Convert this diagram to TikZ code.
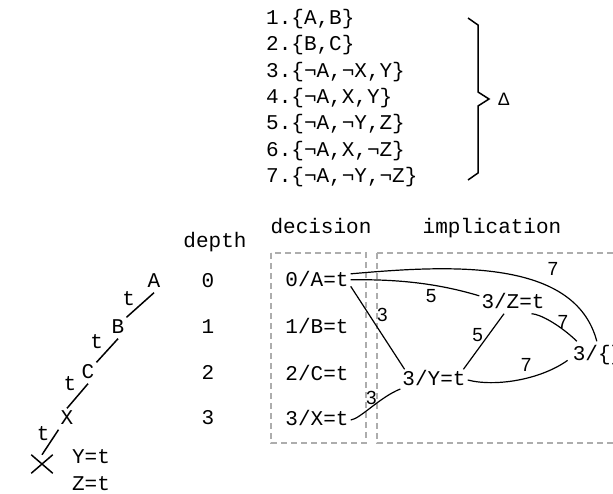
\documentclass[tikz,border=0pt]{standalone}
\usepackage{fontspec}
\newfontfamily\cnffont{Liberation Mono}
\newfontfamily\lblfont{Liberation Sans}
\usepackage{tikz}
\usetikzlibrary{shapes.misc}

\begin{document}
\begin{tikzpicture}[
  x=1pt, y=-1pt,
  every node/.style={
    font=\cnffont\fontsize{21}{26}\selectfont,
    inner sep=2pt,
    text height=14pt,
    text depth=3pt
  },
  lbl/.style={font=\lblfont\fontsize{19}{22}\selectfont, inner sep=1pt, text height=13pt, text depth=0pt},
  tlbl/.style={inner sep=2pt},
  edge/.style={line width=1.2pt},
  trail/.style={line width=1.5pt},
  stage/.style={draw=black!32, line width=2pt, dash pattern=on 6pt off 4pt}
]
\useasboundingbox (0,0) rectangle (613,493);

% clause set
\node[anchor=west] (c1) at (264,19) {1.\{A,B\}};
\node[anchor=west] (c2) at (264,45.3) {2.\{B,C\}};
\node[anchor=west] (c3) at (264,71.6) {3.\{¬A,¬X,Y\}};
\node[anchor=west] (c4) at (264,97.9) {4.\{¬A,X,Y\}};
\node[anchor=west] (c5) at (264,124.2) {5.\{¬A,¬Y,Z\}};
\node[anchor=west] (c6) at (264,150.5) {6.\{¬A,X,¬Z\}};
\node[anchor=west] (c7) at (264,176.8) {7.\{¬A,¬Y,¬Z\}};

\draw[line width=1.5pt] (468,18) -- (478,25) -- (478,92) -- (489,99) -- (478,106) -- (478,173) -- (468,180);
\node[font=\lblfont\fontsize{18}{20}\selectfont] (delta) at (504,100) {Δ};

% search trail
\node (tA) at (154,282) {A};
\node (tB) at (118,328) {B};
\node (tC) at (88,373) {C};
\node (tX) at (67,419) {X};
\node[cross out, draw, line width=1.5pt, minimum width=20pt, minimum height=17pt, inner sep=0pt] (confl) at (42,464) {};
\node (yt) at (91,458) {Y=t};
\node (zt) at (91,485) {Z=t};

\draw[trail] (tA.south) -- node[tlbl, pos=0.3, left=8pt] {t} (tB.north east);
\draw[trail] (tB.south) -- node[tlbl, pos=0.2, left=8pt] {t} (tC.north east);
\draw[trail] (tC.south) -- node[tlbl, pos=0.05, left=8pt] {t} (tX.north);
\draw[trail] (tX.south west) -- node[tlbl, pos=0.2, left=3pt] {t} (confl.north);

% depth column
\node (depth) at (215,242) {depth};
\node (n0) at (208,282) {0};
\node (n1) at (208,328) {1};
\node (n2) at (208,374) {2};
\node (n3) at (208,419) {3};

% implication graph
\node (dec) at (321,228) {decision};
\node (impl) at (492,228) {implication};
\draw[stage] (271,253) rectangle (366,443);
\draw[stage] (377,253) rectangle (640,443);

\node (d0) at (317,281) {0/A=t};
\node (d1) at (317,328) {1/B=t};
\node (d2) at (317,375) {2/C=t};
\node (d3) at (317,420) {3/X=t};

\node (iz) at (513,303) {3/Z=t};
\node (iy) at (434,380) {3/Y=t};
\node[inner sep=5pt] (ie) at (598,355) {3/\{\}};

\draw[edge] (d0.12) .. controls (450,265) and (575,258) .. (ie.95)
  node[lbl, pos=0.7, above=11pt] {7};
\draw[edge] (d0.2) .. controls (400,279) and (440,284) .. (iz.168)
  node[lbl, pos=0.6, below=3pt] {5};
\draw[edge] (d0.-9) -- node[lbl, pos=0.35, right=6pt] {3} (iy.160);
\draw[edge] (d3.east) .. controls (360,419) and (380,397) .. (iy.195)
  node[lbl, pos=0.5, above=1pt] {3};
\draw[edge] (iy.20) -- node[lbl, pos=0.62, left=4pt] {5} (iz.230);
\draw[edge] (iz.-30) .. controls (540,314) and (560,325) .. (ie.147)
  node[lbl, pos=0.5, right=5pt] {7};
\draw[edge] (iy.east) .. controls (495,387) and (540,380) .. (ie.190)
  node[lbl, pos=0.58, above=5pt] {7};

\end{tikzpicture}
\end{document}
